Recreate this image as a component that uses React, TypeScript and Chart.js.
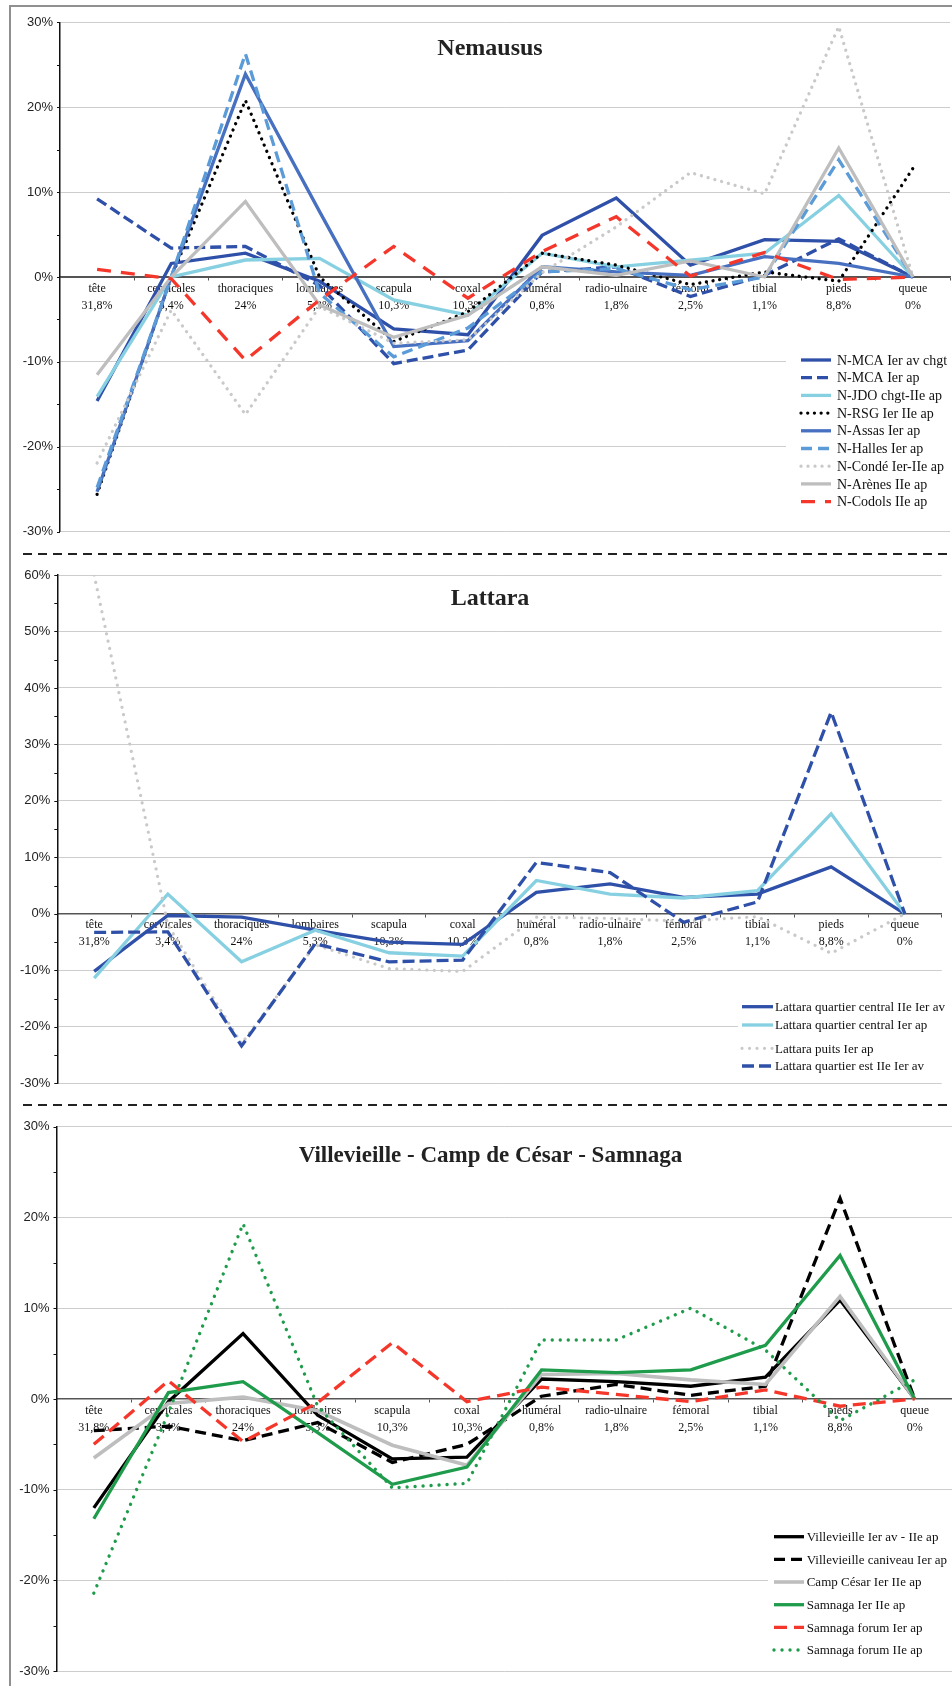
import React, { useEffect, useRef } from 'react';
import { Chart, registerables } from 'chart.js';

Chart.register(...registerables);

// ---------- categories ----------
const categories = ['tête', 'cervicales', 'thoraciques', 'lombaires', 'scapula', 'coxal', 'huméral', 'radio-ulnaire', 'fémoral', 'tibial', 'pieds', 'queue'];
const weightLabels = ['31,8%', '3,4%', '24%', '5,3%', '10,3%', '10,3%', '0,8%', '1,8%', '2,5%', '1,1%', '8,8%', '0%'];

// ---------- Nemausus ----------
const nemaususTitle = 'Nemausus';
const nMcaAvChgt = [-14.6, 1.6, 2.8, -0.5, -6.1, -6.8, 4.9, 9.3, 1.4, 4.4, 4.2, 0];
const nMcaAp = [9.2, 3.4, 3.6, -1.0, -10.2, -8.6, 0.6, 1.2, -2.3, 0.2, 4.5, 0];
const nJdo = [-14.1, 0, 2.0, 2.2, -2.7, -4.5, 2.8, 1.2, 2.0, 2.8, 9.6, 0];
const nRsg = [-25.6, 0, 20.8, 0, -7.6, -4.1, 2.8, 1.4, -0.9, 0.6, -0.5, 12.8];
const nAssas = [-25.3, 0, 23.9, 7.7, -8.2, -7.5, 1.2, 0.6, 0.2, 2.4, 1.6, 0];
const nHalles = [-24.8, 0, 26.3, -1.9, -9.4, -6.0, 0.6, 1.0, -1.5, 0, 13.8, 0];
const nConde = [-21.9, -3.9, -16.2, -3.5, -7.8, -7.4, 0.5, 5.9, 12.3, 9.8, 29.5, 0];
const nArenes = [-11.5, 0, 8.9, -3.3, -7.1, -4.5, 1.2, 0.2, 1.9, 0, 15.2, 0];
const nCodols = [0.9, -0.2, -9.8, -2.7, 3.6, -2.5, 3.0, 7.1, 0.1, 2.9, -0.3, 0];

// ---------- Lattara ----------
const lattaraTitle = 'Lattara';
const lCentralAv = [-10.2, -0.3, -0.6, -2.9, -5.0, -5.4, 3.8, 5.3, 2.9, 3.5, 8.3, 0];
const lCentralAp = [-11.4, 3.5, -8.5, -2.9, -6.9, -7.5, 5.9, 3.5, 2.8, 4.1, 17.7, 0];
const lPuits = [60, -2.0, -23.0, -5.5, -9.7, -10.2, -0.6, -0.8, -1.3, -0.5, -7.0, 0];
const lEst = [-3.3, -3.2, -23.4, -5.3, -8.5, -8.2, 9.1, 7.3, -1.5, 2.1, 35.7, 0];

// ---------- Villevieille - Camp de César - Samnaga ----------
const villeTitle = 'Villevieille - Camp de César - Samnaga';
const vVillevieille = [-12.0, -0.3, 7.2, -1.8, -6.6, -6.4, 2.2, 1.9, 1.4, 2.4, 10.9, 0];
const vCaniveau = [-3.5, -3.0, -4.6, -2.6, -7.0, -5.0, 0.3, 1.6, 0.4, 1.4, 22.1, 0];
const vCampCesar = [-6.5, -0.5, 0.2, -1.3, -5.1, -7.3, 2.7, 2.8, 2.1, 1.6, 11.3, 0];
const vSamnaga = [-13.2, 0.7, 1.9, -3.7, -9.4, -7.5, 3.2, 2.9, 3.2, 5.9, 15.8, 0];
const vForumIer = [-5.0, 2.0, -4.7, -0.4, 6.2, -0.3, 1.3, 0.5, -0.3, 1.0, -0.8, 0];
const vForumIIe = [-21.4, -1.5, 19.3, -0.8, -9.8, -9.3, 6.5, 6.5, 10.0, 5.4, -2.4, 2.1];

const SERIF = '"Liberation Serif", "Times New Roman", serif';
const SANS = '"Liberation Sans", Arial, sans-serif';

type Kind = 'solid' | 'dash' | 'dot';
function ds(label: string, data: number[], color: string, kind: Kind, width: number, pattern?: number[]) {
  const d: any = {
    label,
    data,
    borderColor: color,
    backgroundColor: color,
    borderWidth: width,
    pointRadius: 0,
    pointHoverRadius: 0,
    tension: 0,
    fill: false,
    borderJoinStyle: 'miter',
    borderCapStyle: 'butt',
    borderDash: [],
  };
  if (kind === 'dash') d.borderDash = pattern || [11, 5];
  if (kind === 'dot') {
    d.borderDash = [0.01, (pattern && pattern[0]) || 7];
    d.borderCapStyle = 'round';
  }
  return d;
}

const decor = {
  id: 'decor',
  afterDatasetsDraw(chart: any, _args: any, opts: any) {
    const ctx = chart.ctx;
    ctx.save();
    const lg = opts.legend;
    const [bx, by, bw, bh] = lg.box;
    ctx.fillStyle = '#ffffff';
    ctx.fillRect(bx, by, bw, bh);
    chart.data.datasets.forEach((d: any, i: number) => {
      const y = lg.rows[i];
      ctx.beginPath();
      ctx.strokeStyle = d.borderColor;
      ctx.lineWidth = d.borderWidth;
      ctx.lineCap = d.borderCapStyle;
      ctx.setLineDash(d.borderDash || []);
      ctx.moveTo(lg.x0, y);
      ctx.lineTo(lg.x1, y);
      ctx.stroke();
      ctx.setLineDash([]);
      ctx.fillStyle = '#111';
      ctx.font = lg.font;
      ctx.textAlign = 'left';
      ctx.textBaseline = 'middle';
      ctx.fillText(d.label, lg.tx, y + 1);
    });
    const t = opts.title;
    ctx.fillStyle = '#222';
    ctx.font = t.font;
    ctx.textAlign = 'center';
    ctx.textBaseline = 'alphabetic';
    ctx.fillText(t.text, t.x, t.y);
    ctx.restore();
  },
  afterDraw(chart: any) {
    const ctx = chart.ctx;
    const ys = chart.scales.y;
    const left = chart.chartArea.left;
    ctx.save();
    ctx.strokeStyle = '#111';
    ctx.lineWidth = 1;
    for (let v = ys.min; v <= ys.max + 1e-6; v += 5) {
      const y = Math.round(ys.getPixelForValue(v)) + 0.5;
      ctx.beginPath();
      ctx.moveTo(left - 3, y);
      ctx.lineTo(left, y);
      ctx.stroke();
    }
    ctx.restore();
  },
};

type Spec = {
  top: number;
  height: number;
  left: number;
  right: number;
  areaTop: number;
  areaBottom: number;
  yMin: number;
  yMax: number;
  datasets: any[];
  title: any;
  legend: any;
};

function LineBox({ spec }: { spec: Spec }) {
  const ref = useRef<HTMLCanvasElement>(null);
  useEffect(() => {
    if (!ref.current) return;
    const datasets = spec.datasets.map((d, i) => ({ ...d, order: -i }));
    const chart = new Chart(ref.current, {
      type: 'line',
      data: { labels: categories, datasets },
      options: {
        animation: false,
        responsive: false,
        devicePixelRatio: 1,
        events: [],
        layout: {
          padding: {
            left: 0,
            right: 952 - spec.right,
            top: spec.areaTop - spec.top,
            bottom: spec.top + spec.height - spec.areaBottom,
          },
        },
        plugins: {
          legend: { display: false },
          tooltip: { enabled: false },
          title: { display: false },
          decor: { title: spec.title, legend: spec.legend },
        } as any,
        scales: {
          x: {
            type: 'category',
            offset: true,
            position: { y: 0 } as any,
            grid: {
              offset: true,
              drawOnChartArea: false,
              drawTicks: true,
              tickLength: 3,
              color: '#555',
              lineWidth: 1,
            },
            border: { display: true, color: '#555', width: 1.5 },
            ticks: {
              autoSkip: false,
              maxRotation: 0,
              minRotation: 0,
              padding: 0,
              color: '#111',
              font: { family: SERIF, size: 12, lineHeight: 17 / 12 },
              callback: (_v: any, i: number) => [categories[i], weightLabels[i]],
            },
          },
          y: {
            type: 'linear',
            min: spec.yMin,
            max: spec.yMax,
            afterFit: (s: any) => {
              s.width = spec.left;
            },
            grid: {
              drawTicks: false,
              lineWidth: 1,
              color: (c: any) => (c.tick && c.tick.value === 0 ? '#555' : '#cdcdcd'),
            },
            border: { display: true, color: '#111', width: 1.5 },
            ticks: {
              stepSize: 10,
              padding: 7,
              color: '#222',
              font: { family: SANS, size: 13 },
              callback: (v: any) => `${v}%`,
            },
          },
        },
      },
      plugins: [decor as any],
    });
    return () => chart.destroy();
  }, []);
  return (
    <canvas
      ref={ref}
      width={952}
      height={spec.height}
      style={{ position: 'absolute', left: 0, top: spec.top, width: 952, height: spec.height }}
    />
  );
}

const DARK_BLUE = '#2F50A8';
const MID_BLUE = '#4770C0';
const HALLES_BLUE = '#5B9BD8';
const CYAN = '#86D0E2';
const LIGHT_GRAY = '#C9C9C9';
const GRAY = '#BEBEBE';
const RED = '#F5372B';
const GREEN = '#1F9C4B';

const spec1: Spec = {
  top: 0,
  height: 548,
  left: 60,
  right: 950,
  areaTop: 22.3,
  areaBottom: 531.7,
  yMin: -30,
  yMax: 30,
  datasets: [
    ds('N-MCA Ier av chgt', nMcaAvChgt, DARK_BLUE, 'solid', 3.3),
    ds('N-MCA Ier ap', nMcaAp, DARK_BLUE, 'dash', 3.3, [11, 5]),
    ds('N-JDO chgt-IIe ap', nJdo, CYAN, 'solid', 3.3),
    ds('N-RSG Ier IIe ap', nRsg, '#000000', 'dot', 3.3, [6.7]),
    ds('N-Assas Ier ap', nAssas, MID_BLUE, 'solid', 3.3),
    ds('N-Halles Ier ap', nHalles, HALLES_BLUE, 'dash', 3.3, [11, 6]),
    ds('N-Condé Ier-IIe ap', nConde, LIGHT_GRAY, 'dot', 3.3, [7]),
    ds('N-Arènes IIe ap', nArenes, GRAY, 'solid', 3.3),
    ds('N-Codols IIe ap', nCodols, RED, 'dash', 3.3, [14, 10]),
  ],
  title: { text: nemaususTitle, x: 490, y: 55, font: `bold 24px ${SERIF}` },
  legend: {
    box: [786, 345, 166, 170],
    rows: [360, 377.7, 395.4, 413.1, 430.8, 448.5, 466.2, 483.9, 501.6],
    x0: 801,
    x1: 831,
    tx: 837,
    font: `14px ${SERIF}`,
  },
};

const spec2: Spec = {
  top: 558,
  height: 540,
  left: 57.3,
  right: 941.7,
  areaTop: 575,
  areaBottom: 1087.5,
  yMin: -30,
  yMax: 60,
  datasets: [
    ds('Lattara quartier central IIe Ier av', lCentralAv, DARK_BLUE, 'solid', 3.3),
    ds('Lattara quartier central Ier ap', lCentralAp, CYAN, 'solid', 3.3),
    ds('Lattara puits Ier ap', lPuits, LIGHT_GRAY, 'dot', 3.2, [7.5]),
    ds('Lattara quartier est IIe Ier av', lEst, DARK_BLUE, 'dash', 3.3, [12, 5]),
  ],
  title: { text: lattaraTitle, x: 490, y: 47, font: `bold 24px ${SERIF}` },
  legend: {
    box: [738, 438, 204, 82],
    rows: [448.7, 467, 490.3, 508],
    x0: 742,
    x1: 773,
    tx: 775,
    font: `13px ${SERIF}`,
  },
};

const spec3: Spec = {
  top: 1110,
  height: 576,
  left: 56.5,
  right: 952,
  areaTop: 1126.7,
  areaBottom: 1678.7,
  yMin: -30,
  yMax: 30,
  datasets: [
    ds('Villevieille Ier av - IIe ap', vVillevieille, '#000000', 'solid', 3.3),
    ds('Villevieille caniveau Ier ap', vCaniveau, '#000000', 'dash', 3.3, [11, 6]),
    ds('Camp César Ier IIe ap', vCampCesar, GRAY, 'solid', 3.6),
    ds('Samnaga Ier IIe ap', vSamnaga, GREEN, 'solid', 3.3),
    ds('Samnaga forum Ier ap', vForumIer, RED, 'dash', 3.3, [13, 7]),
    ds('Samnaga forum IIe ap', vForumIIe, GREEN, 'dot', 3.4, [8]),
  ],
  title: { text: villeTitle, x: 490.5, y: 51.7, font: `bold 23px ${SERIF}` },
  legend: {
    box: [768, 410, 184, 145],
    rows: [426.7, 449.4, 472, 494.7, 517.4, 540],
    x0: 774,
    x1: 804,
    tx: 806.7,
    font: `13px ${SERIF}`,
  },
};

export default function App() {
  useEffect(() => {
    document.body.style.margin = '0';
  }, []);
  return (
    <div
      style={{
        position: 'absolute',
        left: 0,
        top: 0,
        width: 952,
        height: 1686,
        overflow: 'hidden',
        background: '#ffffff',
      }}
    >
      <div
        style={{
          position: 'absolute',
          left: 9,
          top: 5,
          width: 1000,
          height: 1720,
          border: '2px solid #909090',
          boxSizing: 'border-box',
        }}
      />
      <svg width={952} height={1686} style={{ position: 'absolute', left: 0, top: 0 }}>
        <line x1={23} x2={952} y1={554} y2={554} stroke="#222" strokeWidth={2} strokeDasharray="9 6" />
        <line x1={23} x2={952} y1={1105} y2={1105} stroke="#222" strokeWidth={2} strokeDasharray="9 6" />
      </svg>
      <LineBox spec={spec1} />
      <LineBox spec={spec2} />
      <LineBox spec={spec3} />
    </div>
  );
}
